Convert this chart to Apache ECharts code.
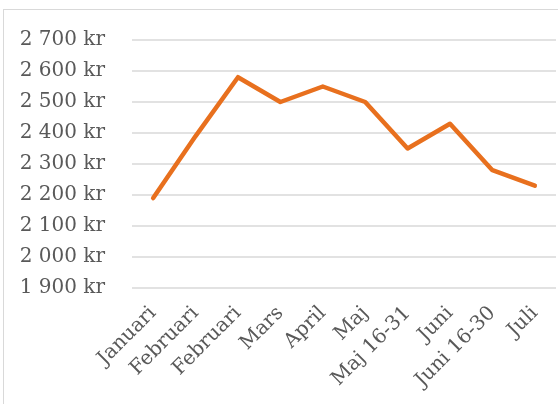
<!DOCTYPE html>
<html>
<head>
<meta charset="utf-8">
<script src="https://cdn.jsdelivr.net/npm/echarts@6/dist/echarts.min.js"></script>
<style>
html,body{margin:0;padding:0;background:#fff;overflow:hidden;}
#frame{position:absolute;left:3px;top:9px;width:600px;height:450px;border:1.5px solid #d9d9d9;box-sizing:border-box;}
#chart{position:absolute;left:0;top:0;width:558px;height:404px;}
</style>
</head>
<body>
<div id="frame"></div>
<div id="chart"></div>
<script>
var categories = ["Januari","Februari","Februari","Mars","April","Maj","Maj 16-31","Juni","Juni 16-30","Juli"];
var values = [2190, 2390, 2580, 2500, 2550, 2500, 2350, 2430, 2280, 2230];
var yMin = 1900, yMax = 2700, yStep = 100;

var chart = echarts.init(document.getElementById('chart'), null, {renderer:'canvas'});
var font = "'DejaVu Serif', 'Liberation Serif', serif";
chart.setOption({
  animation:false,
  backgroundColor:'transparent',
  grid:{left:132,right:2,top:40,bottom:116},
  xAxis:{
    type:'category',
    data:categories,
    boundaryGap:true,
    axisLine:{show:false},
    axisTick:{show:false},
    axisLabel:{interval:0,rotate:45,color:'#595959',fontFamily:font,fontSize:20,margin:22}
  },
  yAxis:{
    type:'value',
    min:yMin,max:yMax,interval:yStep,
    axisLine:{show:false},
    axisTick:{show:false},
    splitLine:{lineStyle:{color:'#d9d9d9',width:1.5}},
    axisLabel:{
      color:'#595959',fontFamily:font,fontSize:20,margin:27,
      formatter:function(v){
        var s=String(v);
        s=s.replace(/\B(?=(\d{3})+(?!\d))/g,' ');
        return s+' kr';
      }
    }
  },
  series:[{
    type:'line',
    data:values,
    symbol:'none',
    lineStyle:{color:'#E8701E',width:4.5,cap:'round',join:'round'}
  }]
});
</script>
</body>
</html>
